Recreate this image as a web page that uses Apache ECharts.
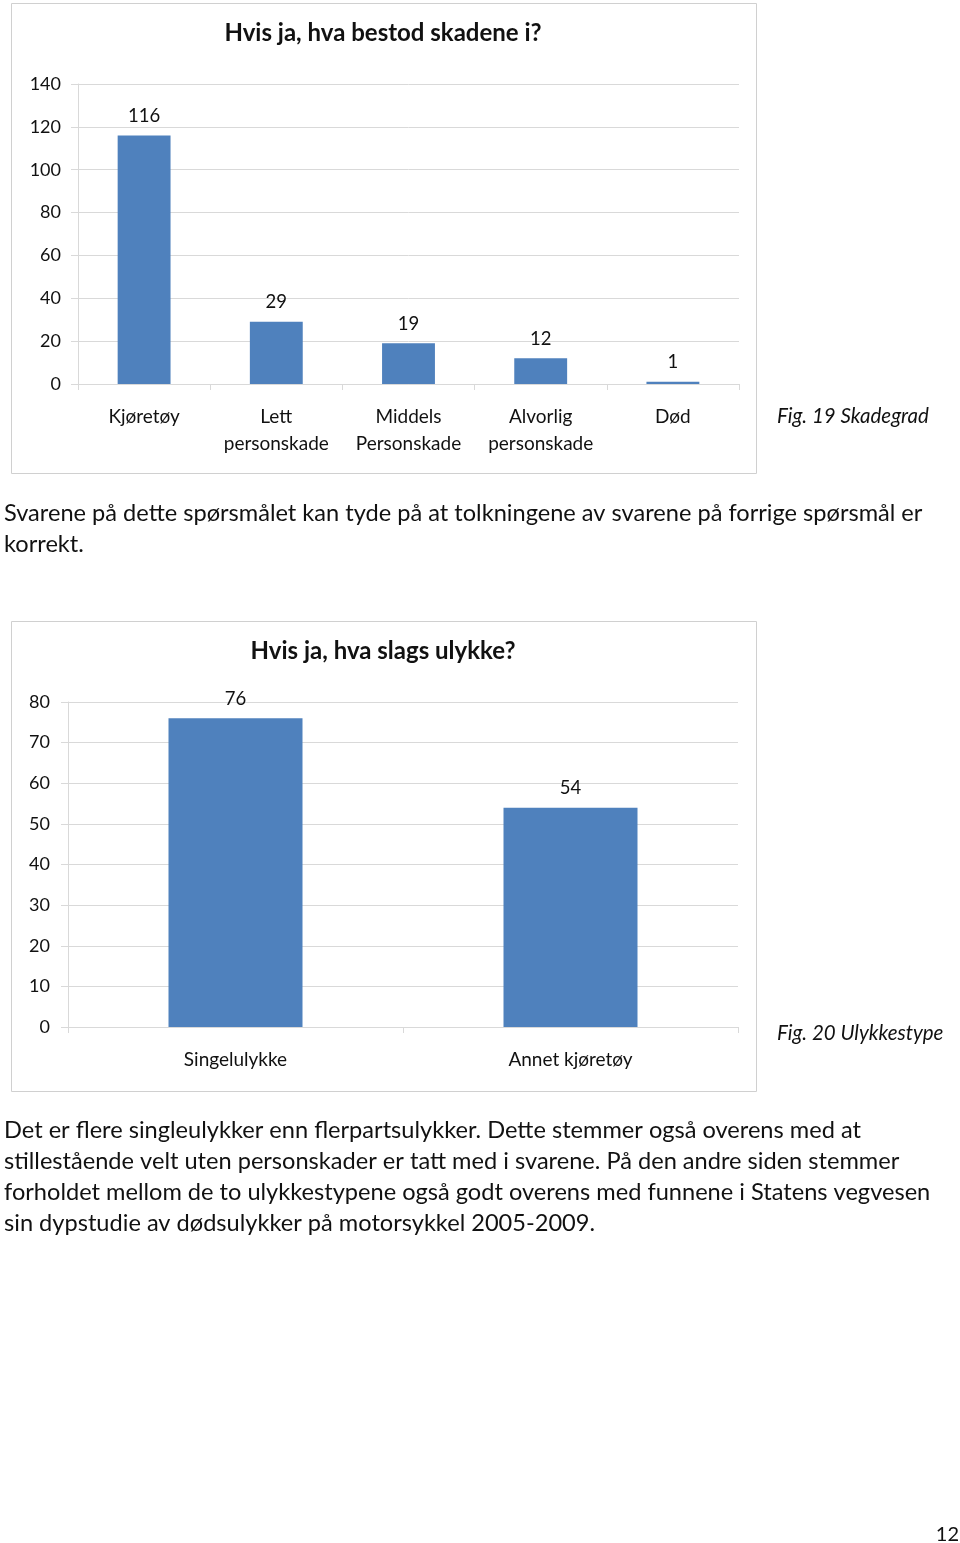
<!DOCTYPE html>
<html>
<head>
<meta charset="utf-8">
<script src="https://cdn.jsdelivr.net/npm/echarts@6/dist/echarts.min.js"></script>
<style>
html,body{margin:0;padding:0;background:#fff;}
#page{width:960px;height:1543px;}
</style>
</head>
<body>
<div id="page"></div>
<script>
// ---- data ----
const title1 = 'Hvis ja, hva bestod skadene i?';
const cats1 = ['Kjøretøy', 'Lett\npersonskade', 'Middels\nPersonskade', 'Alvorlig\npersonskade', 'Død'];
const vals1 = [116, 29, 19, 12, 1];
const caption1 = 'Fig. 19 Skadegrad';

const title2 = 'Hvis ja, hva slags ulykke?';
const cats2 = ['Singelulykke', 'Annet kjøretøy'];
const vals2 = [76, 54];
const caption2 = 'Fig. 20 Ulykkestype';

const para1 = [
  'Svarene på dette spørsmålet kan tyde på at tolkningene av svarene på forrige spørsmål er',
  'korrekt.'
];
const para2 = [
  'Det er flere singleulykker enn flerpartsulykker. Dette stemmer også overens med at',
  'stillestående velt uten personskader er tatt med i svarene. På den andre siden stemmer',
  'forholdet mellom de to ulykkestypene også godt overens med funnene i Statens vegvesen',
  'sin dypstudie av dødsulykker på motorsykkel 2005-2009.'
];
const pageNo = '12';

// ---- styles ----
const FONT = 'Lato, "Open Sans", sans-serif';
const BAR = '#4F81BD';
const GRID = '#d9d9d9';
const TXT = '#111';

const chart = echarts.init(document.getElementById('page'), null, {renderer: 'canvas'});

function yAxis(gridIndex, max, interval, margin) {
  return {
    type: 'value', gridIndex, min: 0, max, interval,
    axisLine: {show: true, lineStyle: {color: GRID}},
    axisTick: {show: true, length: 7, lineStyle: {color: GRID}},
    splitLine: {show: true, lineStyle: {color: GRID, width: 1}},
    axisLabel: {color: TXT, fontSize: 18, fontFamily: FONT, margin, padding: [4, 0, 0, 0]}
  };
}
function xAxis(gridIndex, data) {
  return {
    type: 'category', gridIndex, data,
    axisLine: {show: true, lineStyle: {color: GRID}},
    axisTick: {show: true, length: 6, lineStyle: {color: GRID}},
    axisLabel: {color: TXT, fontSize: 19, fontFamily: FONT, margin: 19, lineHeight: 27, interval: 0}
  };
}
function barSeries(idx, data) {
  return {
    type: 'bar', xAxisIndex: idx, yAxisIndex: idx, data,
    barCategoryGap: '60%',
    itemStyle: {color: BAR},
    label: {show: true, position: 'top', distance: 10, color: TXT, fontSize: 18.5, fontFamily: FONT},
    silent: true
  };
}

const graphics = [
  {type: 'rect', shape: {x: 11.5, y: 3.5, width: 745, height: 470}, style: {fill: 'none', stroke: '#d0d0d0', lineWidth: 1}, z: -1},
  {type: 'rect', shape: {x: 11.5, y: 621.5, width: 745, height: 470}, style: {fill: 'none', stroke: '#d0d0d0', lineWidth: 1}, z: -1},
  {type: 'text', x: 383, y: 33, style: {text: title1, font: 'bold 24px ' + FONT, fill: TXT, textAlign: 'center', textVerticalAlign: 'middle'}},
  {type: 'text', x: 383, y: 651, style: {text: title2, font: 'bold 24px ' + FONT, fill: TXT, textAlign: 'center', textVerticalAlign: 'middle'}},
  {type: 'text', x: 777, y: 416, style: {text: caption1, font: 'italic 20.5px ' + FONT, fill: TXT, textAlign: 'left', textVerticalAlign: 'middle'}},
  {type: 'text', x: 777, y: 1033, style: {text: caption2, font: 'italic 20.5px ' + FONT, fill: TXT, textAlign: 'left', textVerticalAlign: 'middle'}},
  {type: 'text', x: 959, y: 1535, style: {text: pageNo, font: '20px ' + FONT, fill: TXT, textAlign: 'right', textVerticalAlign: 'middle'}}
];
para1.forEach((line, i) => graphics.push({type: 'text', x: 4, y: 513 + i * 31, style: {text: line, font: '23.6px ' + FONT, fill: TXT, textAlign: 'left', textVerticalAlign: 'middle'}}));
para2.forEach((line, i) => graphics.push({type: 'text', x: 4, y: 1130 + i * 31, style: {text: line, font: '23.6px ' + FONT, fill: TXT, textAlign: 'left', textVerticalAlign: 'middle'}}));

chart.setOption({
  animation: false,
  backgroundColor: '#fff',
  grid: [
    {left: 78, right: 960 - 739, top: 84, bottom: 1543 - 384, containLabel: false},
    {left: 68, right: 960 - 738, top: 702, bottom: 1543 - 1027, containLabel: false}
  ],
  xAxis: [xAxis(0, cats1), xAxis(1, cats2)],
  yAxis: [yAxis(0, 140, 20, 17), yAxis(1, 80, 10, 18)],
  series: [barSeries(0, vals1), barSeries(1, vals2)],
  graphic: graphics
});
</script>
</body>
</html>
